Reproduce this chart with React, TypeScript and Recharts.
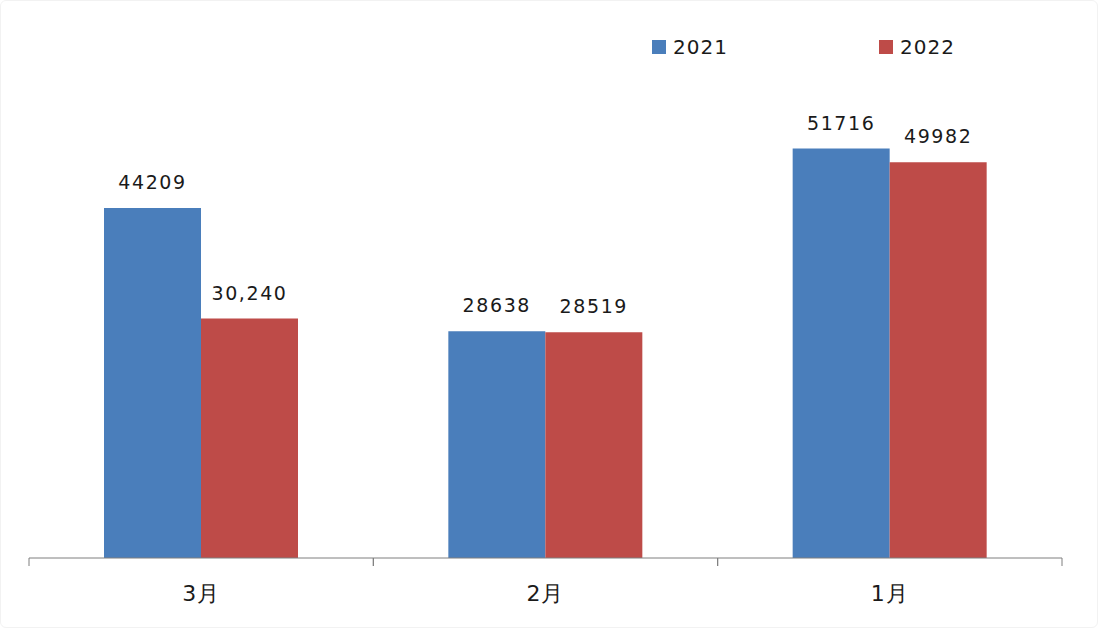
import { BarChart, Bar, XAxis, YAxis, LabelList } from 'recharts'

const months = ['3月', '2月', '1月']
const sales2021 = [44209, 28638, 51716]
const sales2022 = [30240, 28519, 49982]
const labels2021 = ['44209', '28638', '51716']
const labels2022 = ['30,240', '28519', '49982']

const data = months.map((m, i) => ({
  month: m,
  y2021: sales2021[i],
  y2022: sales2022[i],
  l2021: labels2021[i],
  l2022: labels2022[i],
}))

const W = 1098
const H = 628
const margin = { top: 83, right: 36, left: 29, bottom: 0 }
const band = (W - margin.left - margin.right) / months.length

const BLUE = '#4a7ebb'
const RED = '#be4b48'
const FONT = '"DejaVu Sans", Verdana, sans-serif'

// category label plus boundary tick marks on both sides of the band
function MonthTick(props: any) {
  const { x, y, payload } = props
  return (
    <g>
      <line x1={x - band / 2} x2={x - band / 2} y1={y - 8} y2={y} stroke="#7f7f7f" />
      <line x1={x + band / 2} x2={x + band / 2} y1={y - 8} y2={y} stroke="#7f7f7f" />
      <text
        x={x}
        y={y + 35}
        textAnchor="middle"
        fontSize={22}
        fontFamily={FONT}
        fill="#1a1a1a"
        letterSpacing={1}
      >
        {payload.value}
      </text>
    </g>
  )
}

function LegendItem({ color, text }: { color: string; text: string }) {
  return (
    <div style={{ display: 'flex', alignItems: 'center' }}>
      <div style={{ width: 14, height: 14, background: color, marginRight: 7 }} />
      <span style={{ fontSize: 20, letterSpacing: 1, color: '#1a1a1a', fontFamily: FONT }}>{text}</span>
    </div>
  )
}

export default function App() {
  const labelStyle = { fontSize: 19, fontFamily: FONT, fill: '#1a1a1a', letterSpacing: 1.6 }
  return (
    <div
      style={{
        position: 'absolute',
        left: 0,
        top: 0,
        width: W,
        height: H,
        background: '#ffffff',
        boxSizing: 'border-box',
        border: '1px solid #f2f2f2',
        borderRadius: 6,
        overflow: 'hidden',
      }}
    >
      <div style={{ position: 'absolute', left: 651, top: 34 }}>
        <LegendItem color={BLUE} text="2021" />
      </div>
      <div style={{ position: 'absolute', left: 878, top: 34 }}>
        <LegendItem color={RED} text="2022" />
      </div>
      <div style={{ position: 'absolute', left: -1, top: -1 }}>
        <BarChart width={W} height={H} data={data} margin={margin} barGap={0} barSize={97}>
          <XAxis
            dataKey="month"
            height={70}
            axisLine={{ stroke: '#7f7f7f' }}
            tickLine={false}
            tickSize={8}
            tickMargin={0}
            tick={<MonthTick />}
          />
          <YAxis hide domain={[0, 60000]} />
          <Bar dataKey="y2021" fill={BLUE} isAnimationActive={false}>
            <LabelList dataKey="l2021" position="top" offset={19} style={labelStyle} />
          </Bar>
          <Bar dataKey="y2022" fill={RED} isAnimationActive={false}>
            <LabelList dataKey="l2022" position="top" offset={19} style={labelStyle} />
          </Bar>
        </BarChart>
      </div>
    </div>
  )
}
